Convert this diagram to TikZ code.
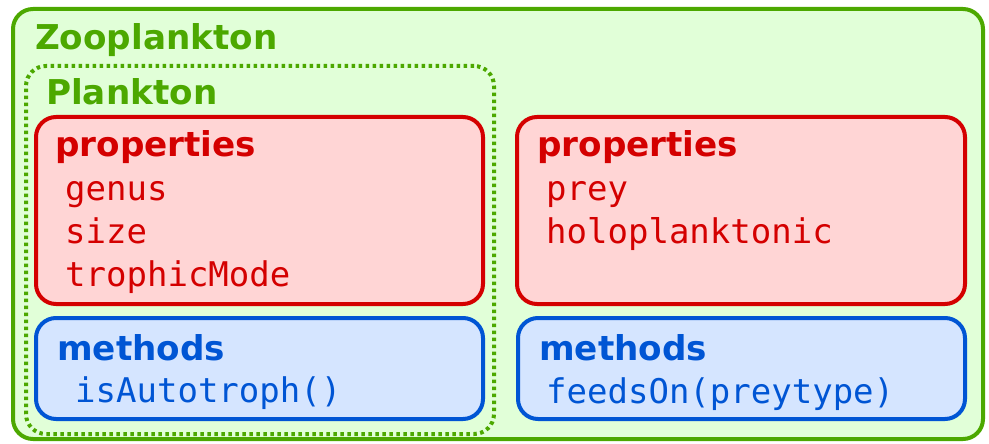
\documentclass[tikz,border=0pt]{standalone}
\usepackage{fontspec}
\setmainfont{DejaVu Sans}
\setmonofont{DejaVu Sans Mono}
\definecolor{zgreen}{RGB}{76,168,0}
\definecolor{zgreenfill}{RGB}{225,255,216}
\definecolor{pred}{RGB}{212,0,0}
\definecolor{predfill}{RGB}{255,213,213}
\definecolor{mblue}{RGB}{0,85,212}
\definecolor{mbluefill}{RGB}{213,229,255}
\tikzset{
  box/.style={inner sep=0pt, outer sep=0pt, anchor=north west, rounded corners=20pt, line width=4pt},
  zoobox/.style={box, draw=zgreen, fill=zgreenfill},
  planktonbox/.style={box, draw=zgreen, line width=4pt, dash pattern=on 3.5pt off 3.5pt},
  propbox/.style={box, draw=pred, fill=predfill},
  methbox/.style={box, draw=mblue, fill=mbluefill},
  txt/.style={inner sep=0pt, anchor=base west},
  title/.style={txt, font=\fontsize{34.2}{40}\selectfont\bfseries},
  code/.style={txt, font=\fontsize{34}{40}\selectfont\ttfamily},
}
\begin{document}
\begin{tikzpicture}[x=1pt,y=-1pt]
\useasboundingbox (0,0) rectangle (989,444);
% containers
\node[zoobox, minimum width=970pt, minimum height=430pt] (zoo) at (13,9) {};
\node[planktonbox, minimum width=468pt, minimum height=368pt] (plankton) at (26,66) {};
\node[propbox, minimum width=447pt, minimum height=187pt] (lprops) at (36,117) {};
\node[methbox, minimum width=447pt, minimum height=101pt] (lmeth) at (36,318) {};
\node[propbox, minimum width=448pt, minimum height=187pt] (rprops) at (517,117) {};
\node[methbox, minimum width=447pt, minimum height=101pt] (rmeth) at (518,318) {};
% headings
\node[title, text=zgreen] (zootitle) at (35,50) {Zooplankton};
\node[title, text=zgreen] (planktontitle) at (46,104) {Plankton};
% Plankton members
\node[title, text=pred] (lptitle) at (55,157) {properties};
\node[code, text=pred] (genus) at (65,200) {genus};
\node[code, text=pred] (size) at (65,243) {size};
\node[code, text=pred] (troph) at (65,286) {trophicMode};
\node[title, text=mblue] (lmtitle) at (57,360) {methods};
\node[code, text=mblue] (isauto) at (75,402) {isAutotroph()};
% Zooplankton members
\node[title, text=pred] (rptitle) at (537,157) {properties};
\node[code, text=pred] (prey) at (546,200) {prey};
\node[code, text=pred] (holo) at (546,243) {holoplanktonic};
\node[title, text=mblue] (rmtitle) at (539,360) {methods};
\node[code, text=mblue] (feeds) at (546,403) {feedsOn(preytype)};
\end{tikzpicture}
\end{document}
